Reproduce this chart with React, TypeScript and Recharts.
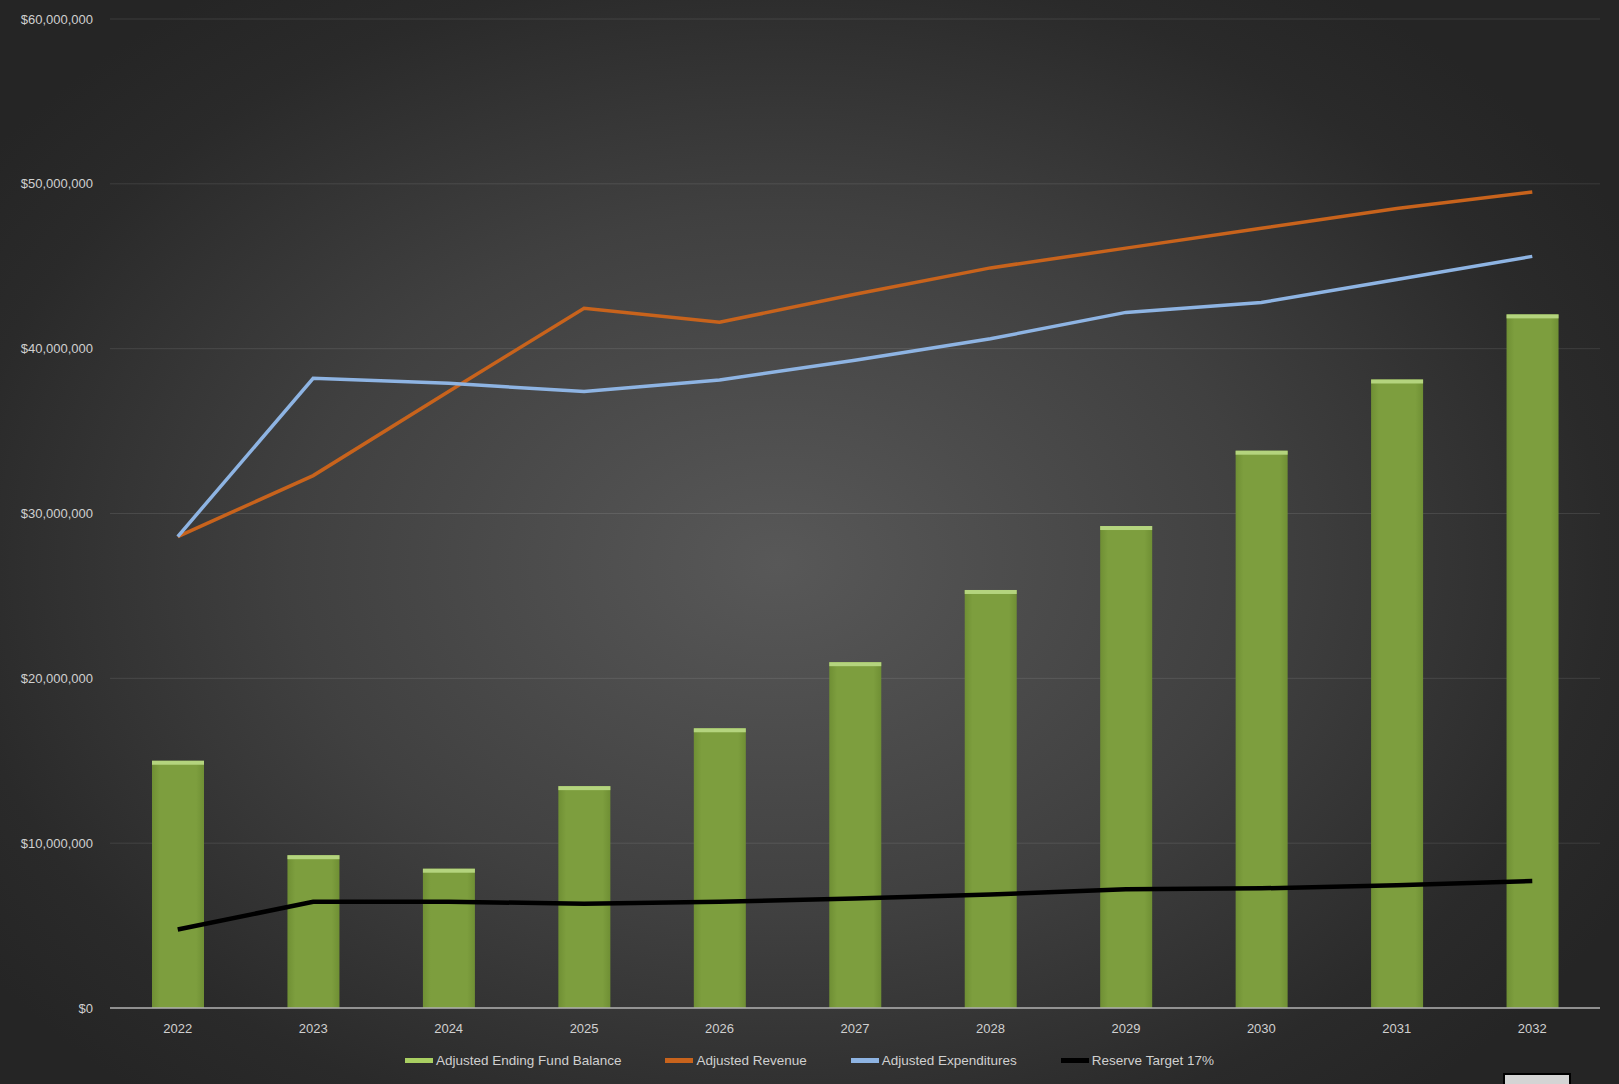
import React from "react";
import {
  Bar,
  CartesianGrid,
  ComposedChart,
  Legend,
  Line,
  XAxis,
  YAxis,
} from "recharts";

const years = ["2022", "2023", "2024", "2025", "2026", "2027", "2028", "2029", "2030", "2031", "2032"];

const endingFundBalance = [15.0, 9.27, 8.45, 13.46, 16.97, 20.98, 25.36, 29.24, 33.81, 38.13, 42.08];
const revenue = [28.6, 32.3, 37.4, 42.45, 41.6, 43.3, 44.9, 46.1, 47.3, 48.5, 49.5];
const expenditures = [28.6, 38.2, 37.9, 37.4, 38.1, 39.3, 40.6, 42.2, 42.8, 44.2, 45.6];
const reserveTarget = [4.76, 6.45, 6.45, 6.32, 6.45, 6.64, 6.89, 7.2, 7.26, 7.45, 7.7];

const yTicks = [0, 10000000, 20000000, 30000000, 40000000, 50000000, 60000000];

const M = 1000000;

const data = years.map((year, i) => ({
  year,
  balance: endingFundBalance[i] * M,
  revenue: revenue[i] * M,
  expenditures: expenditures[i] * M,
  reserve: reserveTarget[i] * M,
}));

const FONT = "'Liberation Sans', Arial, sans-serif";

const legendItems = [
  { label: "Adjusted Ending Fund Balance", color: "#a9cf62" },
  { label: "Adjusted Revenue", color: "#c8631c" },
  { label: "Adjusted Expenditures", color: "#8eb4e3" },
  { label: "Reserve Target 17%", color: "#000000" },
];

const formatMoney = (v: number) => "$" + v.toLocaleString("en-US");

const BarShape = (props: any) => {
  const { x, y, width, height } = props;
  if (!height || height <= 0) return null;
  return (
    <g>
      <rect x={x} y={y} width={width} height={height} fill="url(#barFill)" />
      <rect x={x} y={y} width={width} height={Math.min(4, height)} fill="#b4d47e" />
    </g>
  );
};

const LegendContent = () => (
  <div
    style={{
      display: "flex",
      justifyContent: "center",
      alignItems: "center",
      gap: 44,
      fontFamily: FONT,
      fontSize: 13.5,
      color: "#d0d0d0",
    }}
  >
    {legendItems.map((item) => (
      <div key={item.label} style={{ display: "flex", alignItems: "center" }}>
        <span
          style={{
            display: "inline-block",
            width: 28,
            height: 5,
            background: item.color,
            marginRight: 3,
          }}
        />
        <span>{item.label}</span>
      </div>
    ))}
  </div>
);

export default function App() {
  return (
    <div
      style={{
        position: "absolute",
        left: 0,
        top: 0,
        width: 1619,
        height: 1084,
        background:
          "radial-gradient(ellipse 60% 65% at 48% 52%, #585858 0%, #404040 50%, #2a2a2a 85%, #252525 100%)",
        overflow: "hidden",
      }}
    >
      <ComposedChart
        width={1619}
        height={1084}
        data={data}
        margin={{ top: 19, right: 19, bottom: 31, left: 0 }}
        barCategoryGap={0}
      >
        <defs>
          <linearGradient id="barFill" x1="0" y1="0" x2="1" y2="0">
            <stop offset="0%" stopColor="#6f8f34" />
            <stop offset="15%" stopColor="#7d9e3e" />
            <stop offset="85%" stopColor="#7d9e3e" />
            <stop offset="100%" stopColor="#6f8f34" />
          </linearGradient>
        </defs>
        <CartesianGrid vertical={false} stroke="rgba(255,255,255,0.1)" />
        <XAxis
          dataKey="year"
          height={30}
          axisLine={{ stroke: "#b0b0b0", strokeWidth: 1.5 }}
          tickLine={false}
          tick={{ fill: "#d0d0d0", fontSize: 13, fontFamily: FONT }}
          tickMargin={10}
        />
        <YAxis
          width={110}
          domain={[0, 60000000]}
          ticks={yTicks}
          tickFormatter={formatMoney}
          axisLine={false}
          tickLine={false}
          tickSize={15}
          tick={{ fill: "#d0d0d0", fontSize: 13, fontFamily: FONT }}
        />
        <Bar
          dataKey="balance"
          name="Adjusted Ending Fund Balance"
          barSize={52}
          shape={<BarShape />}
          isAnimationActive={false}
        />
        <Line
          type="linear"
          dataKey="revenue"
          name="Adjusted Revenue"
          stroke="#c8631c"
          strokeWidth={3.5}
          dot={false}
          isAnimationActive={false}
        />
        <Line
          type="linear"
          dataKey="expenditures"
          name="Adjusted Expenditures"
          stroke="#8eb4e3"
          strokeWidth={3.5}
          dot={false}
          isAnimationActive={false}
        />
        <Line
          type="linear"
          dataKey="reserve"
          name="Reserve Target 17%"
          stroke="#000000"
          strokeWidth={4.5}
          dot={false}
          isAnimationActive={false}
        />
        <Legend
          verticalAlign="bottom"
          content={<LegendContent />}
          wrapperStyle={{ top: 1053, left: 0, width: 1619 }}
        />
      </ComposedChart>
      <div
        style={{
          position: "absolute",
          left: 1503,
          top: 1073,
          width: 64,
          height: 14,
          background: "#d4d4d4",
          border: "2px solid #000",
        }}
      />
    </div>
  );
}
